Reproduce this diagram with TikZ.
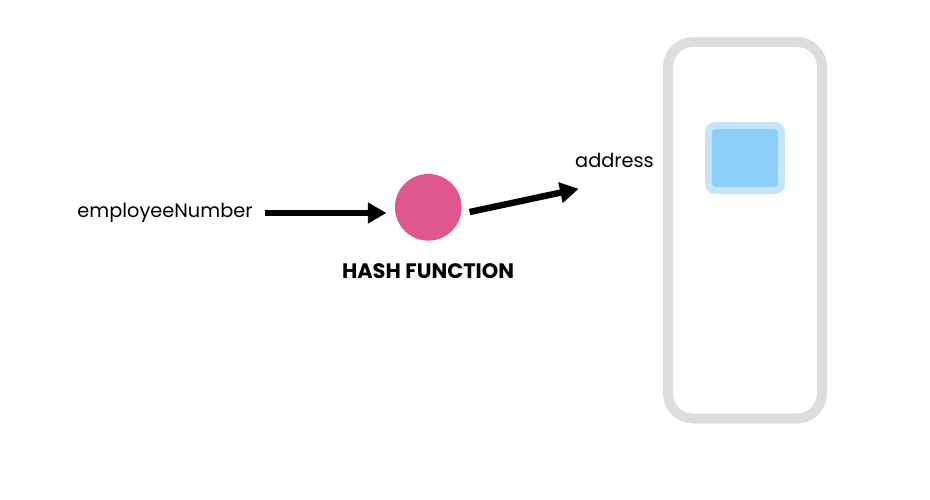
\documentclass[tikz,border=0pt]{standalone}
\usepackage{fontspec}
\setmainfont{Poppins}
\usetikzlibrary{arrows.meta}

\definecolor{hashpink}{RGB}{224,86,143}
\definecolor{tablegray}{RGB}{221,220,225}
\definecolor{slotblue}{RGB}{137,207,248}
\definecolor{slotedge}{RGB}{198,228,251}

\tikzset{
  every picture/.style={line width=0.75pt},
  label text/.style={font=\fontsize{14.5}{17}\selectfont, inner sep=0pt},
  flow/.style={line width=4.8pt, -{Triangle[length=14pt,width=15pt]}},
}

\begin{document}
\begin{tikzpicture}[x=0.75pt,y=0.75pt,yscale=-1,xscale=1]
\useasboundingbox (0,0) rectangle (930,499);

%Rounded Rect: the table
\node[draw=tablegray, line width=7.5pt, rounded corners=18.75pt,
      minimum width=115.5pt, minimum height=282.4pt, inner sep=0pt] (table) at (745,230.25) {};
%Rounded Rect: the slot
\node[draw=slotedge, fill=slotblue, line width=5.25pt, rounded corners=4.5pt,
      minimum width=54.5pt, minimum height=48.4pt, inner sep=0pt] (slot) at (745,158) {};
%Shape: Circle
\node[circle, fill=hashpink, minimum size=50pt, inner sep=0pt] (hash) at (428.3,207.3) {};

% Text Node
\node[label text] (emp) at (165,213) {employeeNumber};
% Text Node
\node[label text] (addr) at (614.5,160) {address};
% Text Node
\node[label text, font=\fontsize{15.7}{18}\selectfont\bfseries] (hashname) at (428,271) {HASH FUNCTION};

%Straight Lines
\draw[flow] ([xshift=9]emp.east) -- ([xshift=-6]emp.east -| hash.west);
\draw[flow] ([shift={(7.5,4.7)}]hash.east) -- ([shift={(4,21)}]addr.south west);

\end{tikzpicture}
\end{document}
